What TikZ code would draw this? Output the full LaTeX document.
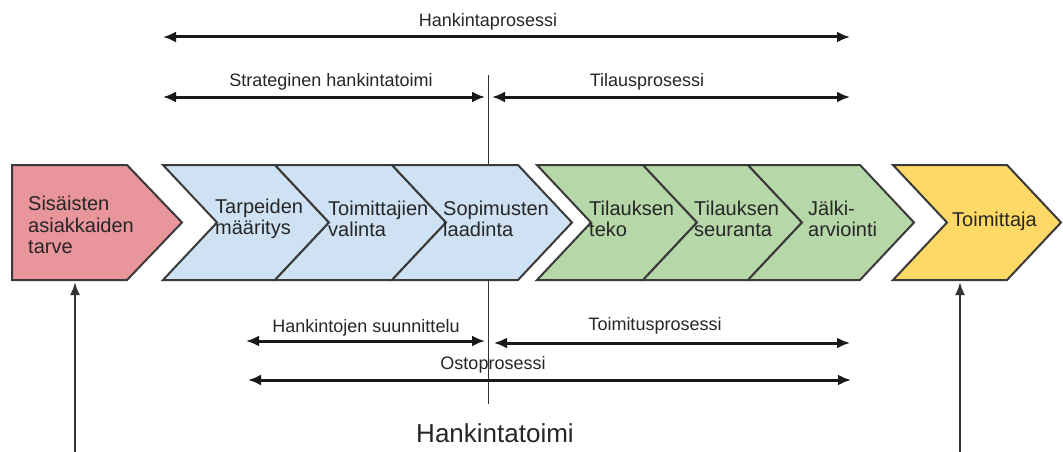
\documentclass[tikz,border=0pt]{standalone}
\usepackage{fontspec}
\setmainfont{Liberation Sans}
\usetikzlibrary{arrows.meta}
\definecolor{cred}{HTML}{E9959C}
\definecolor{cblue}{HTML}{CFE2F3}
\definecolor{cgreen}{HTML}{B6D7A8}
\definecolor{cyellow}{HTML}{FFD966}
\definecolor{edge}{HTML}{3A3A3A}
\definecolor{txt}{HTML}{262626}
\tikzset{
  chev/.style={draw=edge, line width=2pt, line join=miter},
  lbl/.style={font=\fontsize{18}{20}\selectfont, text=txt, anchor=base, inner sep=0pt},
  boxtxt/.style={font=\fontsize{20}{21.5}\selectfont, align=left, anchor=west, inner sep=0pt, text=txt},
  dbl/.style={{Latex[length=13pt,width=11pt]}-{Latex[length=13pt,width=11pt]}, line width=3pt, draw=black!90},
  uparrow/.style={-{Latex[length=13pt,width=10pt]}, line width=2.4pt, draw=black!80},
  divider/.style={line width=1.8pt, draw=black!80},
}
% chevron: x0 (left top), x1 (right top), fill colour
\newcommand\chevron[3]{%
  \path[chev, fill=#3] (#1,165) -- (#2,165) -- ({#2+54},222.5) -- (#2,280) -- (#1,280) -- ({#1+54},222.5) -- cycle;}
\begin{document}
\begin{tikzpicture}[x=1pt,y=-1pt]
\useasboundingbox (0,0) rectangle (1063,452);
\fill[white] (0,0) rectangle (1063,452);

% central divider (behind boxes)
\coordinate (divtop) at (488.5,75);
\coordinate (divbot) at (488.5,404);
\draw[divider] (divtop) -- (divbot);

% boxes
\path[chev, fill=cred] (12,165) -- (127,165) -- (182,222.5) -- (127,280) -- (12,280) -- cycle;
\chevron{163}{275}{cblue}
\chevron{275}{392}{cblue}
\chevron{392}{518}{cblue}
\chevron{537}{643}{cgreen}
\chevron{643}{748}{cgreen}
\chevron{748}{860}{cgreen}
\chevron{893}{1007}{cyellow}

% box texts
\node[boxtxt] (need) at (28,225) {Sisäisten\\asiakkaiden\\tarve};
\node[boxtxt] (def) at (215,219) {Tarpeiden\\määritys};
\node[boxtxt] (sel) at (328,219) {Toimittajien\\valinta};
\node[boxtxt] (con) at (443,219) {Sopimusten\\laadinta};
\node[boxtxt] (ord) at (589,219) {Tilauksen\\teko};
\node[boxtxt] (fol) at (694,219) {Tilauksen\\seuranta};
\node[boxtxt] (eva) at (808,219) {Jälki-\\arviointi};
\node[boxtxt] (sup) at (952,221) {Toimittaja};

% top arrows
\coordinate (hpL) at (163,37);  \coordinate (hpR) at (850,37);
\draw[dbl] (hpL) -- (hpR);
\node[lbl] (hp) at (488,27) {Hankintaprosessi};

\coordinate (shL) at (163,97);  \coordinate (shR) at (485,97);
\draw[dbl] (shL) -- (shR);
\node[lbl] (sh) at (331,86) {Strateginen hankintatoimi};

\coordinate (tpL) at (492,97);  \coordinate (tpR) at (850,97);
\draw[dbl] (tpL) -- (tpR);
\node[lbl] (tp) at (647,87) {Tilausprosessi};

% bottom arrows
\coordinate (hsL) at (246,341); \coordinate (hsR) at (485,341);
\draw[dbl] (hsL) -- (hsR);
\node[lbl] (hs) at (366,332) {Hankintojen suunnittelu};

\coordinate (toL) at (494,343); \coordinate (toR) at (850,343);
\draw[dbl] (toL) -- (toR);
\node[lbl] (to) at (655,330) {Toimitusprosessi};

\coordinate (opL) at (248,380); \coordinate (opR) at (851,380);
\draw[dbl] (opL) -- (opR);
\node[lbl] (op) at (493,369) {Ostoprosessi};

\node[font=\fontsize{26}{28}\selectfont, text=txt, anchor=base, inner sep=0pt] (ht) at (495,442) {Hankintatoimi};

% frame connector from bottom
\coordinate (redbot) at (75,282);
\coordinate (yelbot) at (960,282);
\coordinate (bl) at (75,452.6);
\coordinate (br) at (960,452.6);
\draw[uparrow] (bl) -- (redbot);
\draw[uparrow] (br) -- (yelbot);
\draw[line width=1.4pt, draw=black!70] (bl) -- (br);
\end{tikzpicture}
\end{document}
